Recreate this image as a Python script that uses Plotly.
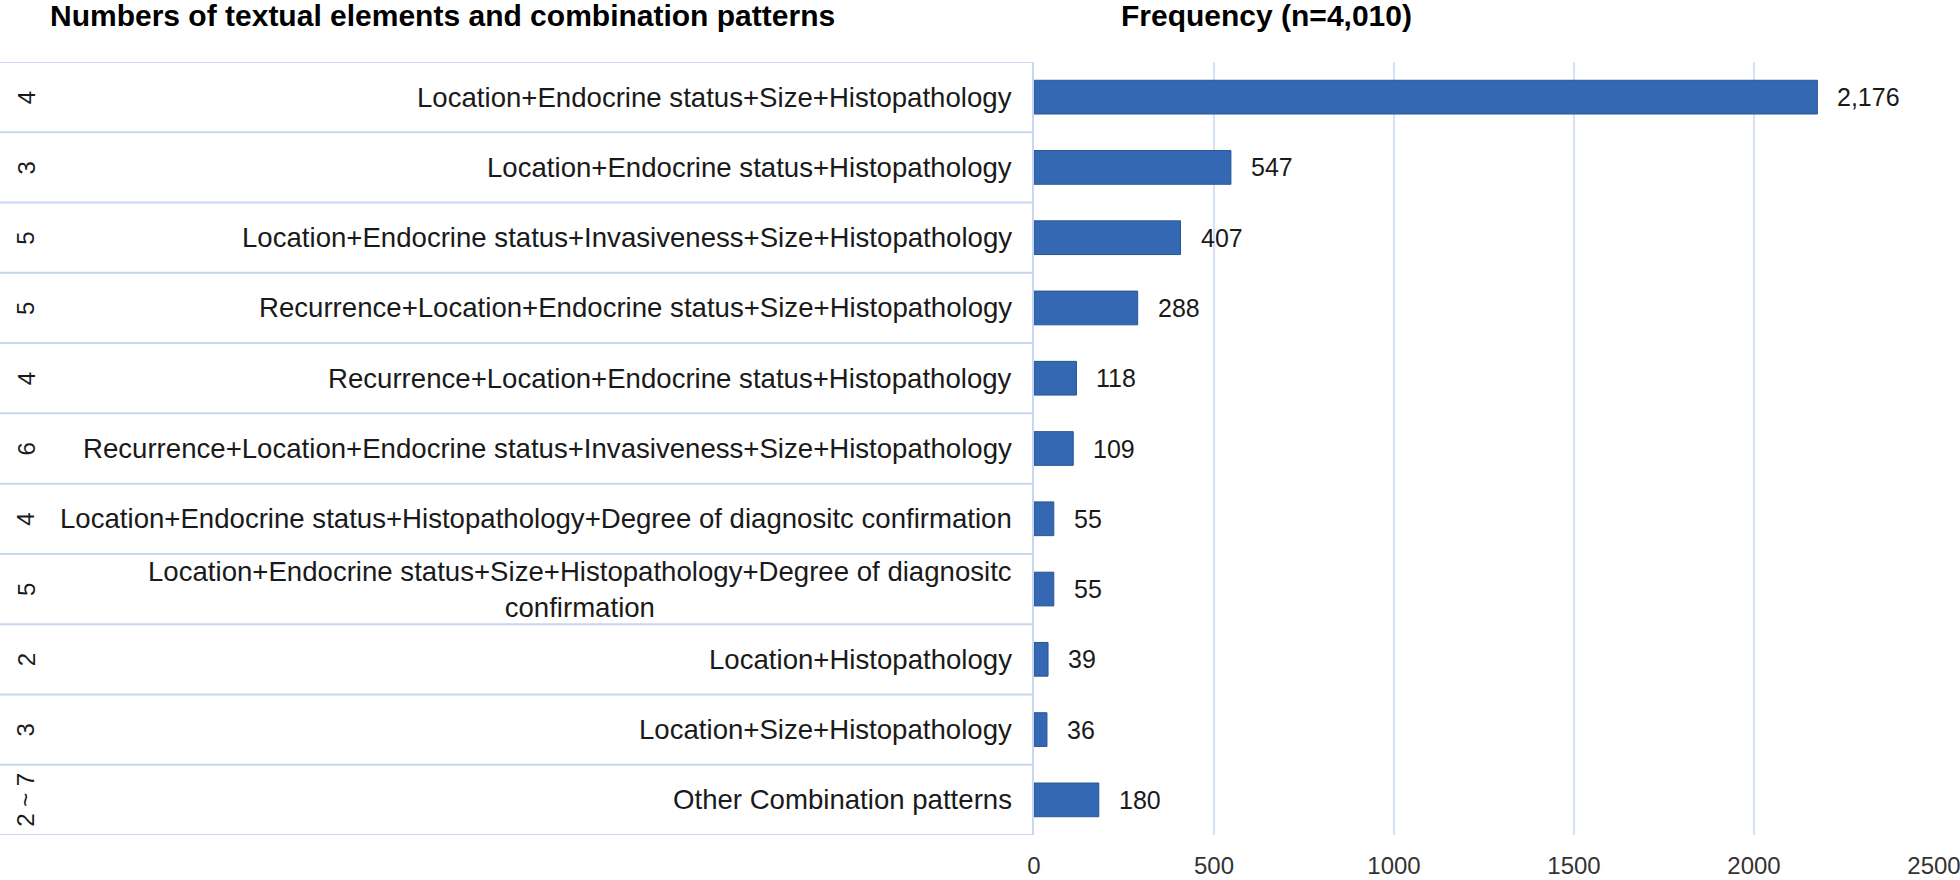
import plotly.graph_objects as go

patterns = [
    "Location+Endocrine status+Size+Histopathology",
    "Location+Endocrine status+Histopathology",
    "Location+Endocrine status+Invasiveness+Size+Histopathology",
    "Recurrence+Location+Endocrine status+Size+Histopathology",
    "Recurrence+Location+Endocrine status+Histopathology",
    "Recurrence+Location+Endocrine status+Invasiveness+Size+Histopathology",
    "Location+Endocrine status+Histopathology+Degree of diagnositc confirmation",
    "Location+Endocrine status+Size+Histopathology+Degree of diagnositc<br>confirmation",
    "Location+Histopathology",
    "Location+Size+Histopathology",
    "Other Combination patterns",
]
n_elements = ["4", "3", "5", "5", "4", "6", "4", "5", "2", "3", "2 ~ 7"]
frequency = [2176, 547, 407, 288, 118, 109, 55, 55, 39, 36, 180]
x_ticks = [0, 500, 1000, 1500, 2000, 2500]

rows = list(range(len(patterns)))

W, H = 1960, 880
ML, MR, MT, MB = 1034, 26, 62, 45
plot_w = W - ML - MR

LINE = "#C6D7EF"
GRID = "#D6E2F3"
TXT = "#1a1a1a"
LABEL_FONT = "Liberation Sans, Arial, sans-serif"

fig = go.Figure()
fig.add_trace(go.Bar(
    x=frequency, y=rows, orientation="h", width=0.48,
    marker=dict(color="#3468B2", line=dict(color="#2A5696", width=1)),
    hoverinfo="skip", showlegend=False,
))

annotations = []
# value labels
for r, v in zip(rows, frequency):
    annotations.append(dict(
        x=v, y=r, xref="x", yref="y", text=f"{v:,}", showarrow=False,
        xanchor="left", yanchor="middle", xshift=18,
        font=dict(family=LABEL_FONT, size=25, color=TXT),
    ))
# pattern labels
for r, p in zip(rows, patterns):
    annotations.append(dict(
        x=-20 / plot_w, y=r, xref="paper", yref="y", text=p, showarrow=False,
        xanchor="right", yanchor="middle", align="center",
        font=dict(family=LABEL_FONT, size=27.6, color=TXT),
    ))
# number-of-elements column
for r, n in zip(rows, n_elements):
    annotations.append(dict(
        x=(26 - ML) / plot_w, y=r, xref="paper", yref="y", text=n, showarrow=False,
        xanchor="center", yanchor="middle", textangle=-90,
        font=dict(family=LABEL_FONT, size=24, color=TXT),
    ))
# headers
annotations.append(dict(
    x=(48 - ML) / plot_w, y=1, yref="paper", xref="paper", yshift=47,
    text="<b>Numbers of textual elements and combination patterns</b>",
    showarrow=False, xanchor="left", yanchor="middle",
    font=dict(family=LABEL_FONT, size=30, color="#000000"),
))
annotations.append(dict(
    x=(1266 - ML) / plot_w, y=1, yref="paper", xref="paper", yshift=47,
    text="<b>Frequency (n=4,010)</b>",
    showarrow=False, xanchor="center", yanchor="middle",
    font=dict(family=LABEL_FONT, size=30, color="#000000"),
))

shapes = []
x_left = -ML / plot_w
x_right = -1 / plot_w
for k in range(len(patterns) + 1):
    shapes.append(dict(
        type="line", xref="paper", yref="y", x0=x_left, x1=x_right,
        y0=k - 0.5, y1=k - 0.5, line=dict(color=LINE, width=2),
    ))
shapes.append(dict(
    type="line", xref="paper", yref="y", x0=x_right, x1=x_right,
    y0=-0.5, y1=len(patterns) - 0.5, line=dict(color=LINE, width=2),
))

fig.update_layout(
    width=W, height=H,
    margin=dict(l=ML, r=MR, t=MT, b=MB, autoexpand=False),
    paper_bgcolor="white", plot_bgcolor="white",
    xaxis=dict(
        range=[0, 2500], tickvals=x_ticks, ticktext=[str(t) for t in x_ticks],
        showgrid=True, gridcolor=GRID, gridwidth=1.5, zeroline=False,
        showline=False, ticks="", ticklabelstandoff=14,
        ticklabeloverflow="allow",
        tickfont=dict(family=LABEL_FONT, size=24, color="#333333"),
        fixedrange=True,
    ),
    yaxis=dict(
        range=[len(patterns) - 0.5, -0.5], showticklabels=False,
        showgrid=False, zeroline=False, showline=False, fixedrange=True,
    ),
    annotations=annotations,
    shapes=shapes,
)

fig.write_html(
    "out.html",
    config={"displayModeBar": False},
    post_script="document.body.style.margin='0px';document.body.style.overflow='hidden';",
)
